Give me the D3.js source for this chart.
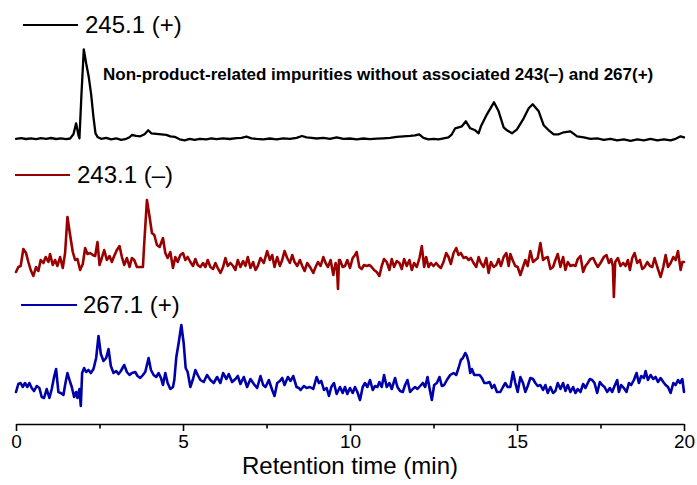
<!DOCTYPE html>
<html>
<head>
<meta charset="utf-8">
<script src="https://cdn.jsdelivr.net/npm/d3@7"></script>
<style>
  html, body { margin: 0; padding: 0; background: #fff; }
  svg { display: block; }
  text { font-family: "Liberation Sans", Arial, sans-serif; }
</style>
</head>
<body>
<svg id="chart" width="697" height="485"></svg>
<script>
// ---------- DATA (retention time in min, relative intensity) ----------
const seriesNames = ["245.1 (+)", "243.1 (\u2013)", "267.1 (+)"];
const xTicks = [0, 5, 10, 15, 20];
const xMinorTicks = [2.5, 7.5, 12.5, 17.5];
const annotation = "Non-product-related impurities without associated 243(\u2013) and 267(+)";
const xTitle = "Retention time (min)";

const trace245 = [[0,0.5],[0.15,1.2],[0.3,0.3],[0.45,1.0],[0.6,0.2],[0.75,1.2],[0.9,0.5],[1.05,1.3],[1.2,0.3],[1.35,1.0],[1.5,0.2],[1.62,0.8],[1.72,5],[1.8,16],[1.87,4],[1.9,1],[1.96,45],[2.03,90],[2.1,76],[2.18,62],[2.25,45],[2.32,22],[2.38,6],[2.45,2],[2.55,0.5],[2.7,1.5],[2.85,0],[3.0,1],[3.15,-0.5],[3.3,0.5],[3.4,2],[3.47,4.3],[3.6,3.5],[3.72,3],[3.85,5],[3.96,9],[4.05,6],[4.2,5.5],[4.35,5],[4.5,4.5],[4.62,3],[4.75,2.5],[4.9,0],[5.05,-1],[5.2,0.5],[5.35,-0.5],[5.5,0.5],[5.7,0],[5.85,1],[6.0,0.2],[6.2,1],[6.4,0.3],[6.6,1.2],[6.75,1.5],[6.9,2.7],[7.05,1],[7.2,0.5],[7.4,0],[7.6,0.8],[7.8,0],[8.0,1],[8.2,0.5],[8.4,1.5],[8.56,3.3],[8.7,2],[8.85,1.5],[9.0,0.8],[9.2,1.5],[9.4,0.5],[9.6,2],[9.8,0.5],[10.0,0.8],[10.2,0],[10.4,0.8],[10.6,0.2],[10.8,0.6],[11.0,1],[11.2,1.5],[11.4,2.5],[11.6,3],[11.8,3.5],[11.95,4],[12.07,5],[12.2,1.5],[12.35,0],[12.5,0.5],[12.65,0],[12.8,1],[12.95,2],[13.05,5],[13.15,11],[13.35,13],[13.47,18],[13.6,11],[13.75,9],[13.85,6],[13.92,13],[14.1,25],[14.31,37],[14.45,28],[14.6,12],[14.7,9],[14.85,6],[15.0,10],[15.2,21],[15.35,31],[15.47,35],[15.65,28],[15.8,14],[15.95,9],[16.1,5],[16.25,5],[16.4,7],[16.6,8],[16.8,3],[17.0,2],[17.2,0.5],[17.4,1],[17.6,-0.5],[17.8,0.5],[18.0,-1],[18.2,0],[18.4,-1.5],[18.6,0],[18.8,-1],[19.0,0.5],[19.2,-1],[19.4,0],[19.6,-1],[19.75,0.5],[19.9,3],[20.0,2]];

const trace243 = [[0,-2],[0.07,3],[0.14,4],[0.22,21],[0.30,17],[0.37,8],[0.44,0],[0.52,-6],[0.60,3],[0.67,-1],[0.74,10],[0.82,7],[0.89,13],[0.97,8],[1.02,16],[1.10,5],[1.17,10],[1.24,4],[1.32,13],[1.40,2],[1.47,17],[1.54,53],[1.62,35],[1.70,18],[1.77,10],[1.84,11],[1.92,0],[2.00,6],[2.07,22],[2.14,16],[2.22,17],[2.30,15],[2.37,14],[2.44,28],[2.50,5],[2.57,12],[2.64,20],[2.72,10],[2.80,14],[2.87,8],[2.94,14],[3.02,20],[3.10,24],[3.17,13],[3.24,5],[3.32,12],[3.40,3],[3.47,12],[3.54,10],[3.62,3],[3.72,3],[3.80,3],[3.84,27],[3.92,70],[4.00,53],[4.07,37],[4.14,35],[4.22,25],[4.30,23],[4.40,32],[4.47,17],[4.54,12],[4.62,18],[4.70,2],[4.77,13],[4.84,8],[4.92,15],[5.00,17],[5.07,10],[5.14,13],[5.22,8],[5.30,4],[5.37,11],[5.44,5],[5.52,3],[5.60,7],[5.67,3],[5.74,10],[5.82,3],[5.90,1],[5.97,7],[6.04,2],[6.12,-3],[6.20,3],[6.27,12],[6.34,4],[6.42,7],[6.50,4],[6.57,0],[6.64,10],[6.72,3],[6.80,9],[6.87,4],[6.94,13],[7.02,2],[7.10,8],[7.17,0],[7.24,4],[7.32,12],[7.42,7],[7.52,19],[7.60,10],[7.67,15],[7.74,3],[7.82,13],[7.90,4],[7.97,10],[8.04,19],[8.12,12],[8.20,7],[8.27,15],[8.34,8],[8.42,4],[8.50,10],[8.57,4],[8.64,-1],[8.72,7],[8.82,2],[8.90,-3],[8.97,3],[9.04,8],[9.12,4],[9.20,13],[9.27,7],[9.34,3],[9.42,10],[9.50,-5],[9.57,7],[9.61,2],[9.64,-19],[9.67,10],[9.70,10],[9.78,3],[9.85,4],[9.92,10],[10.00,2],[10.08,12],[10.15,15],[10.20,18],[10.28,3],[10.35,1],[10.42,5],[10.50,4],[10.58,5],[10.65,3],[10.72,0],[10.80,-2],[10.88,-6],[10.95,4],[11.02,11],[11.10,8],[11.18,0],[11.25,11],[11.32,3],[11.40,9],[11.48,7],[11.55,1],[11.62,11],[11.70,4],[11.78,10],[11.85,0],[11.92,7],[12.00,3],[12.08,12],[12.15,24],[12.22,3],[12.28,13],[12.35,3],[12.42,7],[12.50,4],[12.58,7],[12.65,4],[12.72,2],[12.80,8],[12.88,17],[12.95,13],[13.02,6],[13.10,17],[13.18,22],[13.25,15],[13.32,17],[13.40,12],[13.48,13],[13.55,10],[13.62,12],[13.70,7],[13.78,3],[13.85,13],[13.92,7],[14.00,3],[14.08,12],[14.15,-3],[14.22,8],[14.30,3],[14.38,5],[14.45,11],[14.52,4],[14.60,13],[14.68,17],[14.75,4],[14.80,16],[14.88,9],[14.95,4],[15.02,3],[15.10,-5],[15.18,3],[15.25,10],[15.32,4],[15.40,19],[15.48,8],[15.55,10],[15.62,12],[15.70,27],[15.78,10],[15.85,12],[15.92,13],[16.00,1],[16.08,3],[16.15,10],[16.22,16],[16.30,3],[16.38,13],[16.45,0],[16.52,8],[16.60,4],[16.68,5],[16.75,4],[16.82,11],[16.90,14],[16.98,-2],[17.05,4],[17.12,7],[17.20,11],[17.28,12],[17.35,7],[17.42,3],[17.50,7],[17.60,13],[17.68,15],[17.75,7],[17.82,11],[17.87,4],[17.90,-27],[17.94,8],[18.02,12],[18.10,4],[18.18,7],[18.25,4],[18.32,10],[18.38,0],[18.45,12],[18.52,17],[18.60,7],[18.68,10],[18.75,1],[18.82,3],[18.90,8],[18.98,4],[19.05,3],[19.12,12],[19.20,3],[19.30,-7],[19.38,3],[19.45,15],[19.52,3],[19.60,7],[19.68,13],[19.75,10],[19.82,19],[19.90,0],[19.95,8],[20.00,8]];

const trace267 = [[0,3],[0.07,11],[0.14,12],[0.20,8],[0.27,12],[0.34,8],[0.40,12],[0.47,7],[0.54,4],[0.62,9],[0.70,7],[0.77,-2],[0.84,-3],[0.92,6],[1.00,-3],[1.07,6],[1.14,18],[1.20,26],[1.27,3],[1.34,2],[1.42,0],[1.47,10],[1.54,22],[1.62,13],[1.67,8],[1.74,-2],[1.80,3],[1.84,-3],[1.90,6],[1.94,-11],[1.98,22],[2.04,27],[2.10,23],[2.17,25],[2.24,22],[2.32,26],[2.40,37],[2.47,59],[2.54,41],[2.62,34],[2.70,37],[2.77,46],[2.84,29],[2.92,22],[3.00,24],[3.07,21],[3.14,24],[3.24,30],[3.32,23],[3.40,20],[3.47,22],[3.57,23],[3.64,19],[3.72,17],[3.80,20],[3.87,23],[3.97,37],[4.04,25],[4.12,20],[4.20,18],[4.27,22],[4.34,17],[4.40,10],[4.47,22],[4.54,12],[4.62,6],[4.70,8],[4.74,15],[4.80,38],[4.87,52],[4.95,70],[5.02,52],[5.08,27],[5.14,23],[5.22,8],[5.30,16],[5.37,25],[5.44,20],[5.52,15],[5.62,13],[5.72,20],[5.82,15],[5.92,12],[6.02,18],[6.12,12],[6.20,22],[6.30,16],[6.37,21],[6.47,13],[6.57,16],[6.64,19],[6.72,11],[6.82,18],[6.92,8],[7.02,16],[7.12,11],[7.22,7],[7.32,19],[7.40,10],[7.47,8],[7.57,15],[7.67,5],[7.74,-1],[7.82,12],[7.90,14],[7.97,17],[8.04,10],[8.14,18],[8.22,14],[8.30,19],[8.40,8],[8.47,7],[8.52,5],[8.62,9],[8.70,7],[8.80,8],[8.90,6],[9.00,18],[9.07,12],[9.14,14],[9.22,5],[9.30,7],[9.37,-1],[9.44,8],[9.52,12],[9.60,1],[9.70,8],[9.78,2],[9.85,8],[9.92,1],[10.00,7],[10.08,2],[10.15,8],[10.22,3],[10.30,-5],[10.38,8],[10.45,12],[10.52,8],[10.60,15],[10.68,5],[10.75,9],[10.82,8],[10.88,13],[10.95,8],[11.02,20],[11.10,8],[11.18,12],[11.25,6],[11.35,17],[11.42,8],[11.50,4],[11.58,3],[11.65,10],[11.72,15],[11.80,3],[11.88,6],[11.95,8],[12.02,6],[12.10,9],[12.18,12],[12.25,8],[12.32,18],[12.38,7],[12.45,-5],[12.52,10],[12.60,12],[12.68,18],[12.75,9],[12.82,10],[12.90,15],[13.00,20],[13.10,22],[13.18,20],[13.25,27],[13.32,35],[13.38,37],[13.45,42],[13.50,39],[13.55,33],[13.60,22],[13.65,26],[13.72,20],[13.80,20],[13.88,20],[13.95,17],[14.02,12],[14.10,12],[14.18,13],[14.25,7],[14.32,10],[14.40,3],[14.50,3],[14.58,8],[14.65,12],[14.72,8],[14.80,8],[14.88,23],[14.95,12],[15.02,3],[15.10,18],[15.18,12],[15.25,3],[15.32,9],[15.40,17],[15.48,16],[15.55,12],[15.62,9],[15.70,10],[15.78,5],[15.85,10],[15.92,2],[16.00,8],[16.08,2],[16.15,4],[16.22,12],[16.30,6],[16.38,12],[16.45,4],[16.52,10],[16.60,3],[16.68,8],[16.75,2],[16.82,6],[16.90,3],[16.98,11],[17.05,7],[17.12,12],[17.18,16],[17.25,15],[17.32,12],[17.40,2],[17.48,13],[17.55,10],[17.62,8],[17.70,3],[17.78,7],[17.85,3],[17.92,9],[18.00,15],[18.05,3],[18.12,10],[18.20,7],[18.28,3],[18.35,12],[18.42,10],[18.50,15],[18.58,22],[18.65,12],[18.72,19],[18.80,17],[18.85,24],[18.92,15],[19.00,20],[19.08,16],[19.15,18],[19.22,13],[19.30,17],[19.38,13],[19.45,10],[19.52,8],[19.60,2],[19.68,12],[19.75,10],[19.82,15],[19.88,12],[19.95,16],[20.00,3]];

const seriesData = [trace245, trace243, trace267];

// ---------- LAYOUT / STYLE ----------
const colors = ["#000000", "#990000", "#0000aa"];
const widths = [2.3, 2.6, 2.6];
const baselines = [139.3, 270, 395];
const legendPos = [
  {x1: 23, x2: 78, y: 25, tx: 85, ty: 33},
  {x1: 15, x2: 70, y: 175, tx: 77, ty: 183},
  {x1: 21, x2: 77, y: 305, tx: 83, ty: 313}
];
const axisY = 424;

const svg = d3.select("#chart");
const x = d3.scaleLinear().domain([0, 20]).range([16, 684]);

seriesData.forEach((data, i) => {
  const y = d3.scaleLinear().domain([0, 100]).range([baselines[i], baselines[i] - 100]);
  const line = d3.line().x(d => x(d[0])).y(d => y(d[1]));
  svg.append("path")
    .datum(data)
    .attr("d", line)
    .attr("fill", "none")
    .attr("stroke", colors[i])
    .attr("stroke-width", widths[i])
    .attr("stroke-linejoin", "round")
    .attr("stroke-linecap", "round");

  const lp = legendPos[i];
  svg.append("line")
    .attr("x1", lp.x1).attr("x2", lp.x2)
    .attr("y1", lp.y).attr("y2", lp.y)
    .attr("stroke", colors[i]).attr("stroke-width", 2);
  svg.append("text")
    .attr("x", lp.tx).attr("y", lp.ty)
    .attr("font-size", 24)
    .attr("fill", "#000")
    .text(seriesNames[i]);
});

// annotation
svg.append("text")
  .attr("x", 103).attr("y", 80)
  .attr("font-size", 17)
  .attr("font-weight", "bold")
  .attr("fill", "#000")
  .text(annotation);

// x axis
const gAxis = svg.append("g").attr("transform", `translate(0,${axisY})`);
gAxis.call(d3.axisBottom(x).tickValues(xTicks).tickSize(7).tickSizeOuter(0).tickPadding(4).tickFormat(d3.format("d")));
const gMinor = svg.append("g").attr("transform", `translate(0,${axisY})`);
gMinor.call(d3.axisBottom(x).tickValues(xMinorTicks).tickSize(4.5).tickSizeOuter(0).tickFormat(""));
gMinor.select(".domain").remove();

svg.selectAll(".tick line").attr("stroke", "#000").attr("stroke-width", 1.6);
gAxis.select(".domain").attr("stroke", "#000").attr("stroke-width", 1.6);
gAxis.selectAll(".tick text")
  .attr("font-size", 19)
  .attr("font-family", "'Liberation Sans', Arial, sans-serif")
  .attr("fill", "#000");

svg.append("text")
  .attr("x", (x(0) + x(20)) / 2)
  .attr("y", 474)
  .attr("text-anchor", "middle")
  .attr("font-size", 24)
  .attr("fill", "#000")
  .text(xTitle);
</script>
</body>
</html>
